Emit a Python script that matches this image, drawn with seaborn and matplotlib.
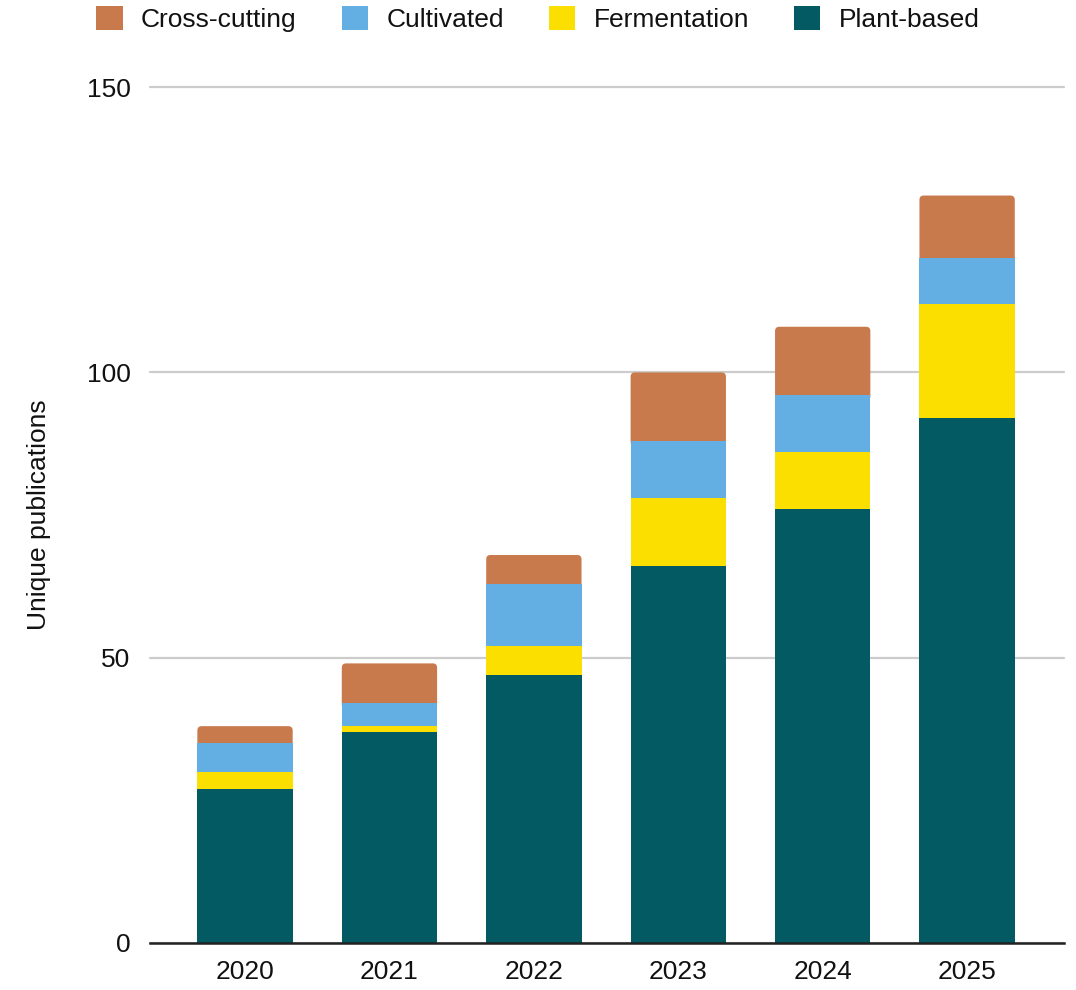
import numpy as np
import pandas as pd
import matplotlib
matplotlib.use("Agg")
import matplotlib.pyplot as plt
from matplotlib.patches import Patch, FancyBboxPatch
import seaborn as sns

years = ["2020", "2021", "2022", "2023", "2024", "2025"]
plant_based = [27, 37, 47, 66, 76, 92]
fermentation = [3, 1, 5, 12, 10, 20]
cultivated = [5, 4, 11, 10, 10, 8]
cross_cutting = [3, 7, 5, 12, 12, 11]

series_names = ["Plant-based", "Fermentation", "Cultivated", "Cross-cutting"]
series_values = [plant_based, fermentation, cultivated, cross_cutting]
colors = {
    "Plant-based": "#035A62",
    "Fermentation": "#FADF00",
    "Cultivated": "#63AEE2",
    "Cross-cutting": "#C87A4C",
}

sns.set_theme(style="white")
plt.rcParams["font.family"] = ["Liberation Sans", "DejaVu Sans"]

fig = plt.figure(figsize=(10.76, 9.9), dpi=100)
ax = fig.add_axes([0.1394, 0.0475, 0.8496, 0.8645])

vals = np.array(series_values)
cum = np.cumsum(vals, axis=0)
bases = np.vstack([np.zeros(len(years)), cum[:-1]])
bar_w = 0.66
n = len(years)

# one seaborn call per layer, then shift each bar onto the layer beneath it
for i, name in enumerate(series_names):
    df = pd.DataFrame({"year": years, "value": vals[i]})
    start = len(ax.patches)
    sns.barplot(data=df, x="year", y="value", order=years,
                color=colors[name], saturation=1, width=bar_w, ax=ax)
    layer = ax.patches[start:start + n]
    for j, p in enumerate(layer):
        p.set_y(bases[i][j])
        p.set_linewidth(0)
        p.set_zorder(2)

# the top layer gets rounded upper corners; its lower corners tuck under
# the segment below
top_layer = ax.patches[(len(series_names) - 1) * n:len(series_names) * n]
for j, p in enumerate(list(top_layer)):
    x0, w = p.get_x(), p.get_width()
    y0 = bases[-1][j] - 1.0
    h = cum[-1][j] - y0
    fb = FancyBboxPatch((x0, y0), w, h,
                        boxstyle="round,pad=0,rounding_size=0.03",
                        mutation_aspect=25.0,
                        facecolor=p.get_facecolor(), edgecolor="none",
                        zorder=1.5)
    p.remove()
    ax.add_patch(fb)

ax.set_ylim(0, 150)
ax.set_xlim(-0.658, 5.672)
ax.set_yticks([0, 50, 100, 150])
ax.yaxis.grid(True, color="#CCCCCC", linewidth=1.6, zorder=0)
ax.xaxis.grid(False)
ax.set_axisbelow(True)
for gl in ax.get_ygridlines():
    gl.set_clip_on(False)

for s in ["top", "right", "left"]:
    ax.spines[s].set_visible(False)
ax.spines["bottom"].set_color("#222222")
ax.spines["bottom"].set_linewidth(1.8)
ax.spines["bottom"].set_zorder(10)

ax.tick_params(axis="y", length=0, pad=14, labelsize=19, labelcolor="#111111")
ax.tick_params(axis="x", length=0, pad=12, labelsize=19, labelcolor="#111111")
ax.set_xlabel("")
ax.set_ylabel("Unique publications", fontsize=19, color="#111111", labelpad=26)

legend_order = ["Cross-cutting", "Cultivated", "Fermentation", "Plant-based"]
handles = [Patch(facecolor=colors[k], edgecolor="none", label=k) for k in legend_order]
fig.legend(handles=handles, loc="center", bbox_to_anchor=(0.5, 0.981), ncol=4,
           frameon=False, fontsize=19, handlelength=1.0, handleheight=1.0,
           handletextpad=0.7, columnspacing=1.7, labelcolor="#111111")

fig.savefig("out.png", dpi=100)
